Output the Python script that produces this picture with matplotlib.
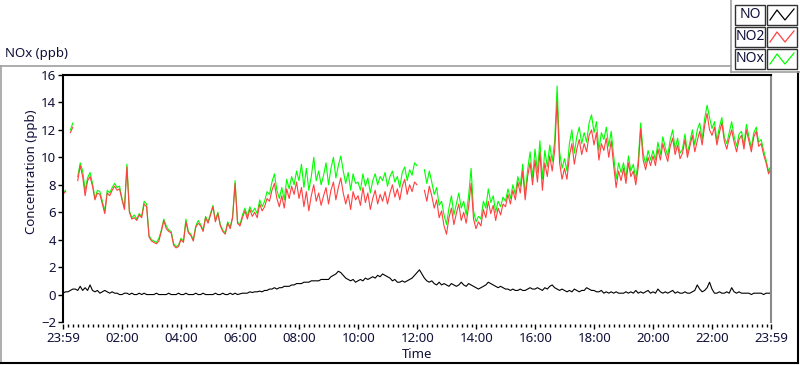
import numpy as np
import matplotlib
matplotlib.use('Agg')
import matplotlib.pyplot as plt
from matplotlib.patches import Rectangle
from matplotlib.lines import Line2D
from matplotlib.ticker import FixedLocator

plt.rcParams['font.family'] = ['Noto Sans', 'DejaVu Sans']

nan = np.nan

# readings every 5 min starting 23:59, one row per hour
no2 = [
    7.3, 7.5, nan, 11.8, 12.2, nan, 8.3, 9.4, 8.6, 7.2, 8.3, 8.6,
    7.9, 6.9, 7.4, 7.3, 6.6, 5.9, 7.4, 7.2, 7.6, 7.9, 7.6, 7.7,
    6.9, 6.2, 9.3, 6.0, 5.5, 5.6, 5.4, 5.8, 5.6, 6.6, 6.4, 4.2,
    3.9, 3.8, 3.7, 3.9, 4.6, 5.4, 4.8, 4.6, 4.5, 3.6, 3.4, 3.5,
    4.0, 3.8, 5.3, 4.5, 4.3, 3.9, 4.9, 5.2, 5.0, 4.6, 5.6, 5.2,
    5.8, 6.4, 5.3, 5.9, 5.0, 4.6, 4.4, 5.2, 4.8, 5.6, 8.1, 5.2,
    5.0, 5.6, 6.1, 5.5, 6.2, 5.7, 6.0, 5.6, 6.6, 6.1, 6.4, 7.0,
    6.8, 7.6, 8.1, 7.0, 6.4, 7.2, 6.3, 7.7, 7.0, 7.9, 7.3, 8.2,
    7.0, 7.8, 6.4, 7.5, 6.1, 7.2, 8.0, 6.8, 7.4, 6.5, 7.2, 7.8,
    6.6, 7.6, 8.2, 6.9, 7.8, 8.5, 7.4, 6.6, 7.3, 6.2, 7.5, 6.9,
    7.2, 6.5, 7.8, 6.7, 7.4, 6.2, 7.0, 7.6, 6.6, 7.3, 6.8, 7.5,
    6.6, 7.4, 8.0, 7.1, 7.7, 6.9, 7.9, 8.4, 7.3, 8.0, 7.5, 8.2,
    8.0, nan, nan, 7.6, 6.8, 7.9, 7.2, 6.3, 6.9, 5.6, 6.1, 5.0,
    4.4, 5.6, 6.3, 5.1, 5.9, 6.6, 5.4, 6.0, 5.2, 6.4, 8.1, 5.5,
    4.8, 5.3, 5.0, 6.2, 5.6, 6.8, 5.9, 6.5, 5.4, 6.3, 5.8, 6.6,
    6.4, 7.3, 6.6, 7.6, 6.9, 8.2, 7.4, 9.0, 6.9, 8.6, 9.6, 8.0,
    9.8, 8.2, 10.4, 7.6, 9.6, 8.6, 10.1, 9.0, 10.5, 14.1, 9.6, 8.4,
    9.2, 8.4, 10.1, 11.0, 9.5, 10.6, 11.3, 10.2, 11.0, 10.4, 11.6, 12.0,
    10.9, 11.8, 9.8, 11.0, 10.5, 11.4, 10.0, 11.2, 9.4, 7.8, 9.0, 8.3,
    9.2, 8.1, 9.6, 8.6, 9.0, 8.0, 9.3, 12.1, 9.8, 9.1, 10.0, 9.4,
    10.1, 9.4, 10.6, 9.8, 11.0, 10.3, 9.7, 10.8, 11.4, 10.2, 10.9, 9.9,
    10.3, 11.3, 10.0, 10.8, 11.6, 10.4, 11.2, 11.9, 10.9, 12.3, 13.2, 12.0,
    11.6, 12.2, 10.9, 11.8, 12.5, 11.2, 10.6, 11.4, 12.0, 11.1, 10.4, 11.3,
    11.6, 10.6, 12.0, 11.2, 10.4, 11.5, 11.9, 10.8, 11.0, 10.2, 9.6, 8.8,
    9.2,
]

nox = [
    7.4, 7.6, nan, 12.0, 12.5, nan, 8.6, 9.6, 9.0, 7.6, 8.5, 8.9,
    8.1, 7.0, 7.6, 7.5, 6.8, 6.1, 7.6, 7.4, 7.8, 8.1, 7.8, 7.9,
    7.0, 6.3, 9.5, 6.1, 5.6, 5.8, 5.5, 5.9, 5.7, 6.8, 6.6, 4.3,
    4.0, 3.9, 3.8, 4.1, 4.7, 5.5, 5.0, 4.7, 4.6, 3.7, 3.5, 3.6,
    4.1, 3.9, 5.5, 4.6, 4.4, 4.0, 5.0, 5.4, 5.1, 4.7, 5.7, 5.3,
    5.9, 6.5, 5.4, 6.0, 5.1, 4.7, 4.5, 5.3, 4.9, 5.7, 8.3, 5.3,
    5.1, 5.8, 6.3, 5.7, 6.4, 6.0, 6.3, 5.9, 6.9, 6.4, 6.8, 7.5,
    7.3, 8.2, 8.8, 7.6, 7.0, 7.8, 6.9, 8.4, 7.7, 8.6, 8.0, 9.0,
    8.3, 9.5, 7.8, 9.2, 7.6, 8.6, 10.0, 8.3, 9.0, 8.0, 8.7, 9.6,
    8.0, 9.2, 10.0, 8.5, 9.4, 10.1, 9.0, 8.1, 8.9, 7.6, 8.8, 8.1,
    8.2, 7.6, 8.8, 7.9, 8.5, 7.4, 8.3, 8.8, 8.0, 8.6, 8.3, 8.9,
    7.9, 8.6, 9.0, 8.2, 8.6, 7.8, 8.9, 9.3, 8.3, 9.1, 8.7, 9.6,
    9.4, nan, nan, 9.1, 8.1, 9.0, 8.2, 7.3, 7.8, 6.5, 6.8, 5.8,
    5.1, 6.3, 7.2, 5.8, 6.6, 7.4, 6.3, 6.8, 5.8, 7.2, 9.2, 6.1,
    5.3, 5.7, 5.5, 6.8, 6.3, 7.7, 6.7, 7.2, 6.0, 6.8, 6.4, 7.1,
    6.8, 7.7, 7.0, 8.0, 7.3, 8.6, 7.9, 9.5, 7.3, 9.1, 10.4, 8.5,
    10.6, 8.9, 11.2, 8.4, 10.5, 9.3, 10.9, 9.7, 11.2, 15.2, 10.4, 9.2,
    9.9, 9.0, 11.0, 12.0, 10.3, 11.5, 12.2, 11.0, 11.8, 11.1, 12.5, 13.1,
    11.8, 12.6, 10.5, 11.8, 11.3, 12.2, 10.8, 11.9, 10.1, 8.4, 9.6, 8.9,
    9.6, 8.5, 10.1, 9.0, 9.5, 8.4, 9.8, 12.5, 10.3, 9.5, 10.5, 9.8,
    10.5, 9.8, 11.1, 10.2, 11.5, 10.7, 10.1, 11.3, 12.0, 10.6, 11.4, 10.3,
    10.6, 11.7, 10.3, 11.1, 12.0, 10.9, 12.0, 12.5, 11.3, 12.8, 13.8, 12.9,
    12.1, 12.6, 11.2, 12.2, 12.9, 11.5, 11.0, 11.8, 12.6, 11.5, 10.8, 11.7,
    11.9, 10.9, 12.4, 11.5, 10.7, 11.8, 12.2, 11.1, 11.3, 10.5, 9.8, 9.0,
    9.4,
]

no = [
    0.1, 0.2, 0.2, 0.3, 0.4, 0.4, 0.3, 0.6, 0.3, 0.5, 0.3, 0.7,
    0.3, 0.2, 0.3, 0.1, 0.2, 0.3, 0.2, 0.1, 0.2, 0.1, 0.1, 0.0,
    0.0, 0.1, 0.1, 0.0, 0.1, 0.0, 0.0, 0.1, 0.0, 0.1, 0.0, 0.0,
    0.0, 0.0, 0.1, 0.0, 0.0, 0.0, 0.0, 0.1, 0.0, 0.0, 0.0, 0.1,
    0.0, 0.0, 0.1, 0.0, 0.0, 0.0, 0.1, 0.0, 0.0, 0.1, 0.0, 0.0,
    0.0, 0.0, 0.1, 0.0, 0.0, 0.1, 0.0, 0.0, 0.1, 0.0, 0.1, 0.0,
    0.05, 0.1, 0.1, 0.1, 0.2, 0.15, 0.2, 0.2, 0.25, 0.2, 0.3, 0.3,
    0.4, 0.4, 0.5, 0.4, 0.5, 0.5, 0.6, 0.6, 0.6, 0.7, 0.7, 0.8,
    0.8, 0.8, 0.9, 0.9, 0.9, 1.0, 1.0, 1.0, 1.0, 1.1, 1.1, 1.1,
    1.1, 1.3, 1.4, 1.5, 1.7, 1.6, 1.4, 1.2, 1.1, 1.0, 1.1, 0.9,
    1.0, 1.1, 1.0, 1.2, 1.1, 1.2, 1.3, 1.2, 1.4, 1.3, 1.5, 1.4,
    1.3, 1.2, 1.0, 1.1, 0.9, 0.9, 1.0, 0.9, 1.0, 1.1, 1.2, 1.4,
    1.6, 1.8, 1.5, 1.2, 1.0, 0.9, 1.0, 0.8, 0.7, 0.9, 0.7, 0.8,
    0.7, 0.6, 0.8, 0.7, 0.6, 0.7, 0.9, 0.7, 0.6, 0.8, 0.7, 0.6,
    0.5, 0.4, 0.5, 0.6, 0.7, 0.9, 0.8, 0.7, 0.6, 0.5, 0.6, 0.5,
    0.4, 0.4, 0.3, 0.4, 0.3, 0.3, 0.4, 0.3, 0.3, 0.4, 0.5, 0.4,
    0.4, 0.5, 0.4, 0.3, 0.5, 0.4, 0.6, 0.7, 0.5, 0.4, 0.3, 0.4,
    0.3, 0.2, 0.3, 0.2, 0.4, 0.3, 0.2, 0.3, 0.3, 0.5, 0.4, 0.3,
    0.3, 0.2, 0.2, 0.3, 0.1, 0.2, 0.1, 0.2, 0.1, 0.2, 0.1, 0.1,
    0.1, 0.2, 0.1, 0.2, 0.1, 0.3, 0.1, 0.2, 0.1, 0.2, 0.3, 0.1,
    0.2, 0.1, 0.4, 0.2, 0.1, 0.2, 0.1, 0.2, 0.3, 0.1, 0.2, 0.1,
    0.1, 0.2, 0.1, 0.1, 0.2, 0.3, 0.7, 0.4, 0.2, 0.3, 0.5, 0.9,
    0.4, 0.1, 0.1, 0.2, 0.1, 0.1, 0.2, 0.1, 0.5, 0.2, 0.1, 0.2,
    0.1, 0.1, 0.1, 0.1, 0.0, 0.1, 0.1, 0.1, 0.1, 0.0, 0.1, 0.1,
    0.1,
]

minutes = np.arange(len(no2)) * 5   # minutes after 23:59

tick_min = [0, 121, 241, 361, 481, 601, 721, 841, 961, 1081, 1201, 1321, 1440]
tick_lbl = ['23:59', '02:00', '04:00', '06:00', '08:00', '10:00', '12:00',
            '14:00', '16:00', '18:00', '20:00', '22:00', '23:59']

W, H = 800, 365
fig = plt.figure(figsize=(W / 100, H / 100), dpi=100)

def fx(px):
    return px / W

def fy(py):
    return 1 - py / H

ax = fig.add_axes([fx(63), fy(322), fx(771) - fx(63), fy(75) - fy(322)])

ax.plot(minutes, nox, color='#00ff00', lw=0.8)
ax.plot(minutes, no2, color='#ff4040', lw=0.8)
ax.plot(minutes, no, color='black', lw=0.8)

ax.set_xlim(0, 1440)
ax.set_ylim(-2, 16)
ax.set_yticks(np.arange(-2, 17, 2))
ax.xaxis.set_major_locator(FixedLocator(tick_min))
ax.set_xticklabels(tick_lbl)
ax.xaxis.set_minor_locator(FixedLocator(np.arange(11, 1440, 10)))

txt = '#10103a'
ax.tick_params(axis='both', labelsize=9.5, colors='black', labelcolor=txt)
ax.tick_params(axis='y', direction='out', length=3.5, width=1, pad=1.5)
ax.tick_params(axis='x', which='major', direction='out', length=3.5, width=1, pad=2)
ax.tick_params(axis='x', which='minor', direction='out', length=2, width=1)

for s in ['top', 'left']:
    ax.spines[s].set_color('black')
    ax.spines[s].set_linewidth(1.5)
ax.spines['right'].set_color('#8a8a8a')
ax.spines['right'].set_linewidth(1.5)
ax.spines['bottom'].set_color('none')
ax.spines['bottom'].set_position(('outward', 1.5))

fig.text(fx(417), fy(354), 'Time', ha='center', va='center', fontsize=9.5, color=txt)
fig.text(fx(32), fy(172), 'Concentration (ppb)', ha='center', va='center',
         rotation=90, fontsize=9.5, color=txt)
fig.text(fx(5), fy(53), 'NOx (ppb)', ha='left', va='center', fontsize=9.5, color=txt)

# panel frame
tf = fig.transFigure
fig.add_artist(Line2D([fx(0), fx(731)], [fy(66), fy(66)], color='#a0a0a0', lw=1.2, transform=tf))
fig.add_artist(Line2D([fx(0.8), fx(0.8)], [fy(66), fy(362)], color='#a0a0a0', lw=1.2, transform=tf))
fig.add_artist(Line2D([fx(0), fx(798)], [fy(362.5), fy(362.5)], color='black', lw=1.5, transform=tf))
fig.add_artist(Line2D([fx(797.5), fx(797.5)], [fy(72), fy(362.5)], color='black', lw=1.5, transform=tf))
fig.add_artist(Line2D([fx(731), fx(731)], [fy(0), fy(72)], color='#a0a0a0', lw=1.2, transform=tf))
fig.add_artist(Line2D([fx(731), fx(800)], [fy(72), fy(72)], color='#a0a0a0', lw=1.2, transform=tf))

# legend
names = ['NO', 'NO2', 'NOx']
colors = ['black', '#ff4040', '#00ff00']
for k, (nm, c) in enumerate(zip(names, colors)):
    top = 5 + 22 * k
    fig.add_artist(Rectangle((fx(735), fy(top + 20)), fx(30), fy(0) - fy(20),
                             facecolor='white', edgecolor='#333333', lw=1.0, transform=tf))
    fig.text(fx(750), fy(top + 10), nm, ha='center', va='center', fontsize=10, color=txt)
    fig.add_artist(Rectangle((fx(767), fy(top + 20)), fx(30), fy(0) - fy(20),
                             facecolor='white', edgecolor='#333333', lw=1.0, transform=tf))
    sx = [fx(770), fx(777), fx(785), fx(794)]
    sy = [fy(top + 15), fy(top + 5), fy(top + 15), fy(top + 4)]
    fig.add_artist(Line2D(sx, sy, color=c, lw=0.9, transform=tf))

fig.savefig('out.png', dpi=100)
